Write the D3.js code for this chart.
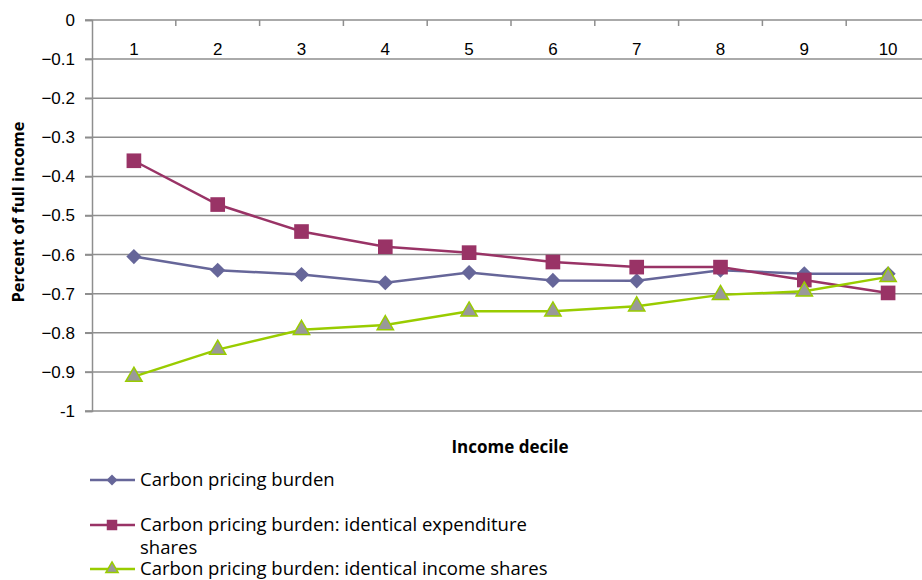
<!DOCTYPE html>
<html>
<head>
<meta charset="utf-8">
<script src="https://cdn.jsdelivr.net/npm/d3@7"></script>
<style>
  body { margin: 0; background: #fff; }
  svg { font-family: "Open Sans", Lato, sans-serif; }
</style>
</head>
<body>
<svg id="chart"></svg>
<script>
let deciles = ["1", "2", "3", "4", "5", "6", "7", "8", "9", "10"]
let yTicks = [0, -0.1, -0.2, -0.3, -0.4, -0.5, -0.6, -0.7, -0.8, -0.9, -1]

let burden = [-0.605, -0.64, -0.651, -0.672, -0.646, -0.666, -0.667, -0.64, -0.649, -0.649]
let burdenExpenditure = [-0.36, -0.472, -0.541, -0.58, -0.595, -0.619, -0.632, -0.632, -0.665, -0.698]
let burdenIncome = [-0.912, -0.843, -0.792, -0.78, -0.745, -0.745, -0.732, -0.703, -0.694, -0.657]

let seriesNames = [
  "Carbon pricing burden",
  "Carbon pricing burden: identical expenditure shares",
  "Carbon pricing burden: identical income shares"
]

let width = 922
let height = 580

let svg = d3.select("#chart")
  .attr("width", width)
  .attr("height", height)

let left = 92
let top_ = 20
let bottom = 411

let xScale = d3.scaleBand()
  .domain(deciles)
  .range([left, left + 10 * 83.8])

let yScale = d3.scaleLinear()
  .domain([0, -1])
  .range([top_, bottom])

let gridColor = "#8e8e8e"

// gridlines
svg.append("g")
  .selectAll("line")
  .data(yTicks)
  .enter()
  .append("line")
  .attr("x1", left - 7)
  .attr("x2", width)
  .attr("y1", d => yScale(d))
  .attr("y2", d => yScale(d))
  .attr("stroke", gridColor)
  .attr("stroke-width", 1.5)

// y axis
let yAxis = d3.axisLeft(yScale)
  .tickValues(yTicks)
  .tickFormat(d => d === 0 ? "0" : d === -1 ? "-1" : d3.format(".1f")(d))
  .tickSize(7)
  .tickPadding(10)

let yG = svg.append("g")
  .attr("transform", "translate(" + left + ",0)")
  .call(yAxis)
yG.select(".domain").attr("stroke", gridColor).attr("stroke-width", 1.5)
yG.selectAll(".tick line").attr("stroke", gridColor).attr("stroke-width", 1.5)
yG.selectAll("text").style("font-size", "17px").attr("fill", "#000")

// x axis along the top (y = 0)
let xAxis = d3.axisBottom(xScale)
  .tickSize(0)
  .tickPadding(23)

let xG = svg.append("g")
  .attr("transform", "translate(0," + top_ + ")")
  .call(xAxis)
xG.select(".domain").remove()
xG.selectAll("text").style("font-size", "17px").attr("fill", "#000")

svg.append("g")
  .selectAll("line")
  .data(deciles.slice(1))
  .enter()
  .append("line")
  .attr("x1", d => xScale(d))
  .attr("x2", d => xScale(d))
  .attr("y1", top_)
  .attr("y2", top_ + 6)
  .attr("stroke", gridColor)
  .attr("stroke-width", 1.5)

// axis titles
svg.append("text")
  .text("Percent of full income")
  .attr("transform", "translate(24,212) rotate(-90)")
  .attr("text-anchor", "middle")
  .style("font-size", "16.5px")
  .style("font-weight", "bold")

svg.append("text")
  .text("Income decile")
  .attr("x", 510)
  .attr("y", 453)
  .attr("text-anchor", "middle")
  .style("font-size", "17px")
  .style("font-weight", "bold")

let cx = d => xScale(d) + xScale.bandwidth() / 2

let series = [
  { name: seriesNames[0], values: burden, color: "#666699", fill: "#666699", shape: d3.symbolSquare, rot: 45, size: 115, legSize: 60 },
  { name: seriesNames[1], values: burdenExpenditure, color: "#993366", fill: "#993366", shape: d3.symbolSquare, rot: 0, size: 215, legSize: 110 },
  { name: seriesNames[2], values: burdenIncome, color: "#99cc00", fill: "#999999", shape: d3.symbolTriangle, rot: 0, size: 115, legSize: 65 }
]

let line = d3.line()
  .x((d, i) => cx(deciles[i]))
  .y(d => yScale(d))

series.forEach(s => {
  svg.append("path")
    .datum(s.values)
    .attr("d", line)
    .attr("fill", "none")
    .attr("stroke", s.color)
    .attr("stroke-width", 2.5)
})

series.forEach(s => {
  svg.append("g")
    .selectAll("path")
    .data(s.values)
    .enter()
    .append("path")
    .attr("d", d3.symbol().type(s.shape).size(s.size))
    .attr("transform", (d, i) => "translate(" + cx(deciles[i]) + "," + yScale(d) + ") rotate(" + s.rot + ")")
    .attr("fill", s.fill)
    .attr("stroke", s.shape === d3.symbolTriangle ? s.color : "none")
    .attr("stroke-width", 1.5)
})

// legend
let legendRows = [
  { y: 480, lines: [seriesNames[0]] },
  { y: 525, lines: ["Carbon pricing burden: identical expenditure", "shares"] },
  { y: 569, lines: [seriesNames[2]] }
]

legendRows.forEach((row, i) => {
  let s = series[i]
  let g = svg.append("g")
  g.append("line")
    .attr("x1", 90).attr("x2", 135)
    .attr("y1", row.y).attr("y2", row.y)
    .attr("stroke", s.color)
    .attr("stroke-width", 2.5)
  g.append("path")
    .attr("d", d3.symbol().type(s.shape).size(s.legSize))
    .attr("transform", "translate(112," + row.y + ") rotate(" + s.rot + ")")
    .attr("fill", s.fill)
    .attr("stroke", s.shape === d3.symbolTriangle ? s.color : "none")
    .attr("stroke-width", 1.5)
  row.lines.forEach((t, j) => {
    g.append("text")
      .text(t)
      .attr("x", 140)
      .attr("y", row.y + 6 + j * 23)
      .style("font-size", "18.5px")
  })
})
</script>
</body>
</html>
